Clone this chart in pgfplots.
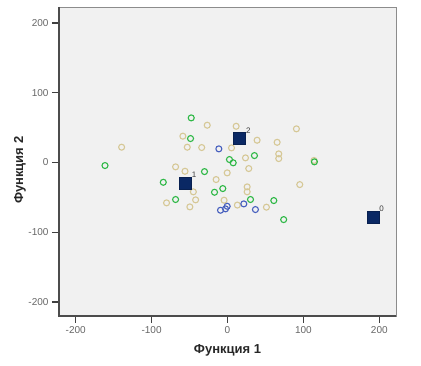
\documentclass[border=0pt]{standalone}
\usepackage{fontspec}
\setmainfont{Liberation Sans}
\usepackage{pgfplots}
\pgfplotsset{compat=1.18}
\definecolor{tanc}{RGB}{214,200,150}
\definecolor{greenc}{RGB}{46,184,70}
\definecolor{bluec}{RGB}{70,95,190}
\definecolor{navy}{RGB}{10,40,100}
\definecolor{bgc}{RGB}{241,241,241}
\begin{document}
\begin{tikzpicture}
\path[use as bounding box] (-59pt,-50pt) rectangle (362pt,316pt);
\begin{axis}[
  scale only axis, width=337pt, height=309pt,
  xmin=-222, xmax=222, ymin=-220, ymax=223,
  axis background/.style={fill=bgc},
  axis line style={draw=black!45, line width=0.8pt},
  xtick={-200,-100,0,100,200}, ytick={-200,-100,0,100,200},
  tick align=outside, tick pos=left,
  major tick length=7pt,
  every tick/.style={draw=black!75, line width=1.3pt},
  /pgf/number format/assume math mode=true,
  tick label style={font=\fontsize{10}{12}\selectfont, text=black!60},
  xlabel={Функция 1}, ylabel={Функция 2},
  xlabel style={at={(axis description cs:0.5,-0.11)}, anchor=center, font=\fontsize{13}{15}\selectfont\bfseries, text=black!85},
  ylabel style={at={(axis description cs:-0.116,0.472)}, anchor=center, font=\fontsize{13}{15}\selectfont\bfseries, text=black!85},
  clip=false,
]
\draw[draw=black!70, line width=2pt] (rel axis cs:0,1) -- (rel axis cs:0,0) -- (rel axis cs:1,0);
% beige group
\addplot[only marks, mark=o, mark size=3pt, mark options={draw=tanc, line width=1.1pt}] coordinates {
(-58.8,37.8) (-53,22) (-34,21.5) (-139.5,22) (-68.4,-6.2) (-56,-12.5)
(-26.7,53.5) (11.4,52) (39,32) (90.8,48.3) (65.4,29) (67.5,12.4) (67.5,5.7)
(5.3,21) (23.7,6.7) (114,3) (28,-8.6) (-0.4,-14.8) (-45,-42) (-42,-53.5)
(-80.3,-57.8) (-49.6,-63.6) (-15,-24.4) (25.9,-34.9) (25.9,-42) (95.2,-31.6)
(-4.5,-54) (13,-61) (51.3,-64)
};
% green group
\addplot[only marks, mark=o, mark size=3pt, mark options={draw=greenc, line width=1.1pt}] coordinates {
(-47.8,64) (-48.7,34.4) (-161.4,-4.3) (2.6,4.3) (7.5,-0.4) (35.5,10) (114.5,1)
(-30.3,-13) (-84.6,-28.3) (-68.4,-53) (-17.1,-42.6) (-6.2,-37.3) (30.3,-53)
(61,-54.5) (74,-81.8)
};
% blue group
\addplot[only marks, mark=o, mark size=3pt, mark options={draw=bluec, line width=1.1pt}] coordinates {
(-11.4,19.6) (-9.2,-68.4) (-2.6,-66.4) (-0.4,-62.7) (21.5,-59.3) (36.8,-67.4)
};
% centroids
\addplot[only marks, mark=square*, mark size=6pt,
  mark options={fill=navy, draw=navy!80!black, line width=0.6pt},
  point meta=explicit symbolic, nodes near coords,
  every node near coord/.style={anchor=south west, inner sep=0pt, xshift=6pt, yshift=5pt,
    font=\fontsize{8}{9}\selectfont, text=black!75}] coordinates {
(191.7,-78.5) [0]
(-55.3,-29.1) [1]
(16.2,34.4) [2]
};
\end{axis}
\end{tikzpicture}
\end{document}
